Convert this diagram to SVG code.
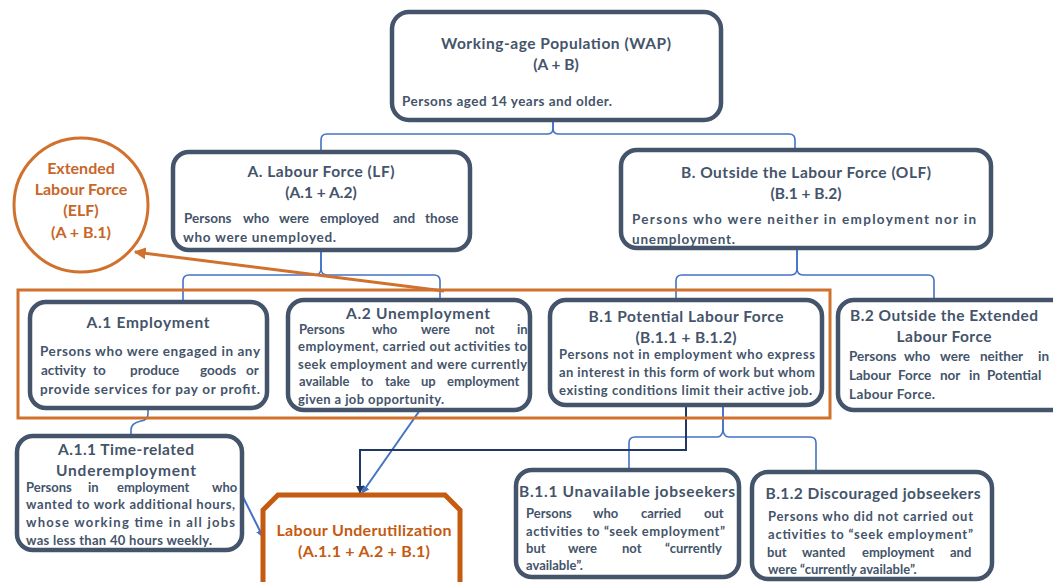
<svg xmlns="http://www.w3.org/2000/svg" width="1053" height="582" viewBox="0 0 1053 582">
<style>
.box{fill:#fff;stroke:#44546A;stroke-width:4.5}
.t{font-family:Lato,"Open Sans",sans-serif;font-weight:bold;fill:#44546A;font-size:15.5px;text-anchor:middle}
.b{font-family:Lato,"Open Sans",sans-serif;font-weight:bold;fill:#44546A;font-size:13.5px}
.s{font-size:13px}
.o{font-family:Lato,"Open Sans",sans-serif;font-weight:bold;fill:#C8662A;font-size:16px;text-anchor:middle}
.br{fill:none;stroke:#4472C4;stroke-width:1.6}
</style>
<defs>
<marker id="ao" viewBox="0 0 10 10" refX="9" refY="5" markerWidth="4" markerHeight="4" orient="auto"><path d="M0,0 L10,5 L0,10 z" fill="#D0712E"/></marker>
<marker id="ab" viewBox="0 0 10 10" refX="9" refY="5" markerWidth="4" markerHeight="4" orient="auto"><path d="M0,0 L10,5 L0,10 z" fill="#4472C4"/></marker>
<marker id="an" viewBox="0 0 10 10" refX="9" refY="5" markerWidth="4" markerHeight="4" orient="auto"><path d="M0,0 L10,5 L0,10 z" fill="#1F3864"/></marker>
</defs>
<rect width="1053" height="582" fill="#fff"/>

<g id="connectors">
<path class="br" d="M553,120 V128 Q553,134 548,134 H327 Q321,134 321,140 V152"/>
<path class="br" d="M553,120 V128 Q553,134 558,134 H789 Q795,134 795,140 V150"/>
<path class="br" d="M321,250 V268 Q321,275 315,275 H189 Q183,275 183,281 V302"/>
<path class="br" d="M321,250 V268 Q321,275 327,275 H434 Q440,275 440,281 V300"/>
<path class="br" d="M797,248 V268 Q797,275 791,275 H682 Q676,275 676,281 V300"/>
<path class="br" d="M797,248 V268 Q797,275 803,275 H928 Q934,275 934,281 V300"/>
<path class="br" d="M148,408 V414 Q148,420 141,421 Q131,423 131,430 V436"/>
<path class="br" d="M723,405 V428 Q723,437 717,437 H635 Q629,437 629,443 V470"/>
<path class="br" d="M723,405 V428 Q723,437 729,437 H810 Q816,437 816,443 V472"/>
<line x1="420" y1="410" x2="362" y2="493" stroke="#4472C4" stroke-width="2" marker-end="url(#ab)"/>
<line x1="242" y1="495" x2="263" y2="537" stroke="#4472C4" stroke-width="2" marker-end="url(#ab)"/>
<path d="M686,405 V450 H360 V493" fill="none" stroke="#1F3864" stroke-width="2" marker-end="url(#an)"/>
<line x1="444" y1="291" x2="135" y2="252" stroke="#D0712E" stroke-width="3" marker-end="url(#ao)"/>
</g>

<g id="elf-group">
<rect x="18" y="290" width="812" height="128" fill="none" stroke="#D0712E" stroke-width="3"/>
</g>

<g id="wap">
<rect class="box" x="392" y="12" width="329" height="108" rx="17"/>
<text class="t" x="556" y="49" textLength="230">Working-age Population (WAP)</text>
<text class="t" x="556" y="70">(A + B)</text>
<text class="b" x="402" y="106" textLength="210">Persons aged 14 years and older.</text>
</g>

<g id="lf">
<rect class="box" x="173" y="152" width="297" height="98" rx="16"/>
<text class="t" x="321" y="177" textLength="147">A. Labour Force (LF)</text>
<text class="t" x="321" y="198">(A.1 + A.2)</text>
<text class="b" y="223"><tspan x="184">Persons</tspan><tspan x="243">who</tspan><tspan x="279">were</tspan><tspan x="320">employed</tspan><tspan x="393">and</tspan><tspan x="425">those</tspan></text>
<text class="b" x="183" y="242" textLength="153">who were unemployed.</text>
</g>

<g id="olf">
<rect class="box" x="621" y="150" width="370" height="98" rx="16"/>
<text class="t" x="806" y="178" textLength="250">B. Outside the Labour Force (OLF)</text>
<text class="t" x="806" y="199">(B.1 + B.2)</text>
<text class="b" x="632" y="224" textLength="344">Persons who were neither in employment nor in</text>
<text class="b" x="632" y="244" textLength="103">unemployment.</text>
</g>

<g id="elf">
<circle cx="81" cy="205" r="67" fill="#fff" stroke="#D0712E" stroke-width="3"/>
<text class="o" x="81" y="174">Extended</text>
<text class="o" x="81" y="195">Labour Force</text>
<text class="o" x="81" y="216">(ELF)</text>
<text class="o" x="81" y="238">(A + B.1)</text>
</g>

<g id="a1">
<rect class="box" x="30" y="302" width="237" height="106" rx="16"/>
<text class="t" x="148" y="328" textLength="123">A.1 Employment</text>
<text class="b" x="40" y="356" textLength="220">Persons who were engaged in any</text>
<text class="b" y="375"><tspan x="41">activity</tspan><tspan x="93">to</tspan><tspan x="130">produce</tspan><tspan x="200">goods</tspan><tspan x="246">or</tspan></text>
<text class="b" x="40" y="394" textLength="220">provide services for pay or profit.</text>
</g>

<g id="a2">
<rect class="box" x="288" y="300" width="242" height="110" rx="16"/>
<text class="t" x="418" y="319" textLength="144">A.2 Unemployment</text>
<text class="b s" y="334"><tspan x="299">Persons</tspan><tspan x="372">who</tspan><tspan x="421">were</tspan><tspan x="475">not</tspan><tspan x="517">in</tspan></text>
<text class="b s" x="298" y="351" textLength="229">employment, carried out activities to</text>
<text class="b s" x="298" y="369" textLength="229">seek employment and were currently</text>
<text class="b s" y="386"><tspan x="299">available</tspan><tspan x="361">to</tspan><tspan x="385">take</tspan><tspan x="421">up</tspan><tspan x="447">employment</tspan></text>
<text class="b s" x="298" y="404" textLength="146">given a job opportunity.</text>
</g>

<g id="b1">
<rect class="box" x="550" y="300" width="272" height="105" rx="16"/>
<text class="t" x="686" y="322" textLength="195">B.1 Potential Labour Force</text>
<text class="t" x="686" y="343" textLength="101">(B.1.1 + B.1.2)</text>
<text class="b s" x="559" y="359" textLength="256">Persons not in employment who express</text>
<text class="b s" x="559" y="377" textLength="256">an interest in this form of work but whom</text>
<text class="b s" x="559" y="395" textLength="253">existing conditions limit their active job.</text>
</g>

<g id="b2">
<rect class="box" x="838" y="300" width="230" height="110" rx="16"/>
<text class="t" x="944" y="321" textLength="188">B.2 Outside the Extended</text>
<text class="t" x="944" y="342" textLength="95">Labour Force</text>
<text class="b" y="361"><tspan x="849">Persons</tspan><tspan x="904">who</tspan><tspan x="940">were</tspan><tspan x="980">neither</tspan><tspan x="1038">in</tspan></text>
<text class="b" y="380"><tspan x="849">Labour</tspan><tspan x="898">Force</tspan><tspan x="940">nor</tspan><tspan x="969">in</tspan><tspan x="987">Potential</tspan></text>
<text class="b" x="849" y="399" textLength="86">Labour Force.</text>
</g>

<g id="a11">
<rect class="box" x="17" y="436" width="225" height="114" rx="16"/>
<text class="t" x="126" y="455" textLength="136">A.1.1 Time-related</text>
<text class="t" x="126" y="476" textLength="140">Underemployment</text>
<text class="b s" y="492"><tspan x="26">Persons</tspan><tspan x="88">in</tspan><tspan x="117">employment</tspan><tspan x="212">who</tspan></text>
<text class="b s" x="26" y="509" textLength="209">wanted to work additional hours,</text>
<text class="b s" x="26" y="527" textLength="209">whose working time in all jobs</text>
<text class="b s" x="26" y="545" textLength="186">was less than 40 hours weekly.</text>
</g>

<g id="lu">
<path d="M263,600 V510 L278,495 H445 L460,510 V600" fill="#fff" stroke="#C55A11" stroke-width="5"/>
<text class="o" x="364" y="536" textLength="175" style="fill:#C55A11">Labour Underutilization</text>
<text class="o" x="364" y="557" textLength="132" style="fill:#C55A11">(A.1.1 + A.2 + B.1)</text>
</g>

<g id="b11">
<rect class="box" x="516" y="470" width="223" height="107" rx="16"/>
<text class="t" x="627" y="497" textLength="216">B.1.1 Unavailable jobseekers</text>
<text class="b s" y="518"><tspan x="526">Persons</tspan><tspan x="593">who</tspan><tspan x="641">carried</tspan><tspan x="704">out</tspan></text>
<text class="b s" x="526" y="536" textLength="199">activities to “seek employment”</text>
<text class="b s" y="553"><tspan x="526">but</tspan><tspan x="568">were</tspan><tspan x="622">not</tspan><tspan x="665">“currently</tspan></text>
<text class="b s" x="526" y="570">available”.</text>
</g>

<g id="b12">
<rect class="box" x="752" y="472" width="240" height="107" rx="16"/>
<text class="t" x="873" y="499" textLength="215">B.1.2 Discouraged jobseekers</text>
<text class="b s" x="768" y="521" textLength="205">Persons who did not carried out</text>
<text class="b s" x="768" y="539" textLength="205">activities to “seek employment”</text>
<text class="b s" y="557"><tspan x="767">but</tspan><tspan x="802">wanted</tspan><tspan x="862">employment</tspan><tspan x="950">and</tspan></text>
<text class="b s" x="768" y="574">were “currently available”.</text>
</g>
</svg>
